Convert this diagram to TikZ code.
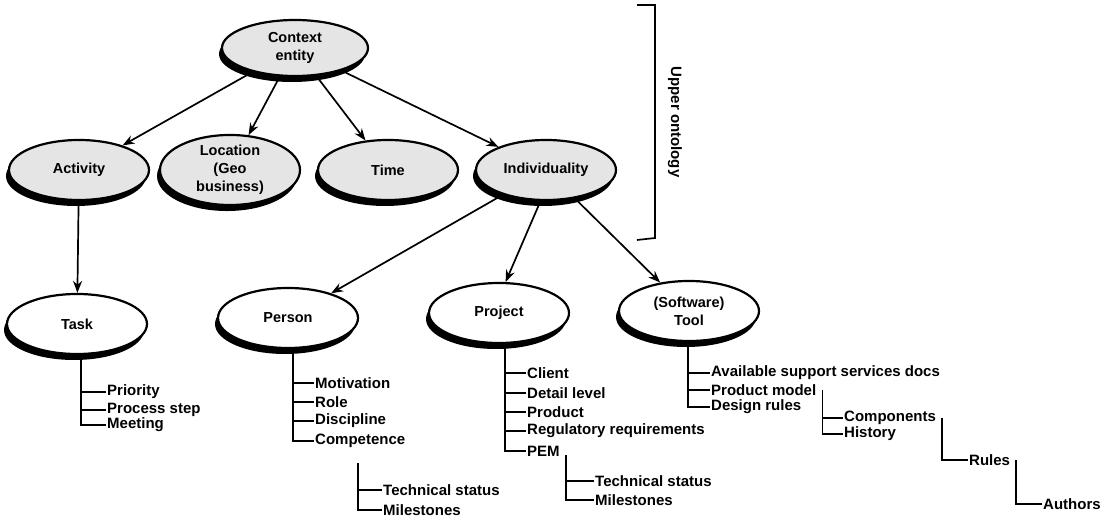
\documentclass[tikz,border=0pt]{standalone}
\usepackage{fontspec}
\setmainfont{Liberation Sans}
\usetikzlibrary{arrows.meta,shadows,shapes.geometric}

\tikzset{
  concept/.style={ellipse, draw=black, line width=2.2pt, minimum width=140pt, minimum height=60pt,
    inner sep=0pt, align=center, font=\fontsize{14.5}{18}\selectfont\bfseries,
    drop shadow={shadow xshift=-3pt, shadow yshift=-6pt, fill=black, opacity=1}},
  upper/.style={concept, fill=black!10},
  lower/.style={concept, fill=white},
  item/.style={anchor=west, inner sep=1pt, font=\fontsize{15}{16}\selectfont\bfseries},
  link/.style={-{Stealth[length=12pt,width=9pt]}, line width=1.7pt},
  tree/.style={line width=1.7pt}
}

\begin{document}
\begin{tikzpicture}[x=1pt,y=-1pt]
\useasboundingbox (0,0) rectangle (1114,518);

% upper ontology
\node[upper, minimum width=146pt, minimum height=56pt] (ctx) at (295,48) {Context\\entity};
\node[upper] (act) at (79,170) {Activity};
\node[upper] (loc) at (230,170) {Location\\(Geo\\business)};
\node[upper] (time) at (388,170) {Time};
\node[upper] (ind) at (546,170) {Individuality};

\draw[link] (ctx) -- (act);
\draw[link] (ctx) -- (loc);
\draw[link] (ctx) -- (time);
\draw[link] (ctx) -- (ind);

\draw[line width=1.7pt] (637,5) -- (655,5) -- (655,238) -- (637,240);
\node[rotate=-90, font=\fontsize{15}{16}\selectfont\bfseries] (uplabel) at (675,122) {Upper ontology};

% lower level
\node[lower] (task) at (77,324) {Task};
\node[lower] (pers) at (288,318) {Person};
\node[lower] (proj) at (499,313) {Project};
\node[lower] (tool) at (689,311) {(Software)\\Tool};

\draw[link] (act) -- (task);
\draw[link] (ind) -- (pers);
\draw[link] (ind.-100) -- (proj.78);
\draw[link] (ind) -- (tool);

% task attributes
\node[item] (prio) at (106,392) {Priority};
\node[item] (pstep) at (106,410) {Process step};
\node[item] (meet) at (106,425) {Meeting};
\coordinate (taskroot) at (81,355);
\foreach \n in {prio,pstep,meet} \draw[tree] (taskroot) |- (\n.west);

% person attributes
\node[item] (motiv) at (314,383) {Motivation};
\node[item] (role) at (314,402) {Role};
\node[item] (disc) at (314,421) {Discipline};
\node[item] (comp) at (314,441) {Competence};
\coordinate (persroot) at (293,349);
\foreach \n in {motiv,role,disc,comp} \draw[tree] (persroot) |- (\n.west);

\node[item] (techA) at (382,490) {Technical status};
\node[item] (mileA) at (382,510) {Milestones};
\coordinate (comproot) at (358,463);
\foreach \n in {techA,mileA} \draw[tree] (comproot) |- (\n.west);

% project attributes
\node[item] (client) at (526,373) {Client};
\node[item] (detail) at (526,393) {Detail level};
\node[item] (prod) at (526,412) {Product};
\node[item] (reg) at (526,431) {Regulatory requirements};
\node[item] (pem) at (526,451) {PEM};
\coordinate (projroot) at (505,344);
\foreach \n in {client,detail,prod,reg,pem} \draw[tree] (projroot) |- (\n.west);

\node[item] (techB) at (594,481) {Technical status};
\node[item] (mileB) at (594,500) {Milestones};
\coordinate (pemroot) at ([xshift=5pt,yshift=-4pt]pem.east);
\foreach \n in {techB,mileB} \draw[tree] (pemroot) |- (\n.west);

% tool attributes
\node[item] (avail) at (710,373) {Available support services docs};
\node[item] (pmodel) at (710,390) {Product model};
\node[item] (drules) at (710,407) {Design rules};
\coordinate (toolroot) at (688,342);
\foreach \n in {avail,pmodel,drules} \draw[tree] (toolroot) |- (\n.west);

\node[item] (compo) at (843,418) {Components};
\node[item] (hist) at (843,434) {History};
\coordinate (pmroot) at ([xshift=5pt]pmodel.east);
\foreach \n in {compo,hist} \draw[tree] (pmroot) |- (\n.west);

\node[item] (rules) at (968,460) {Rules};
\coordinate (coroot) at ([xshift=5pt]compo.east);
\draw[tree] (coroot) |- (rules.west);

\node[item] (auth) at (1042,504) {Authors};
\coordinate (ruroot) at ([xshift=5pt]rules.east);
\draw[tree] (ruroot) |- (auth.west);
\end{tikzpicture}
\end{document}
